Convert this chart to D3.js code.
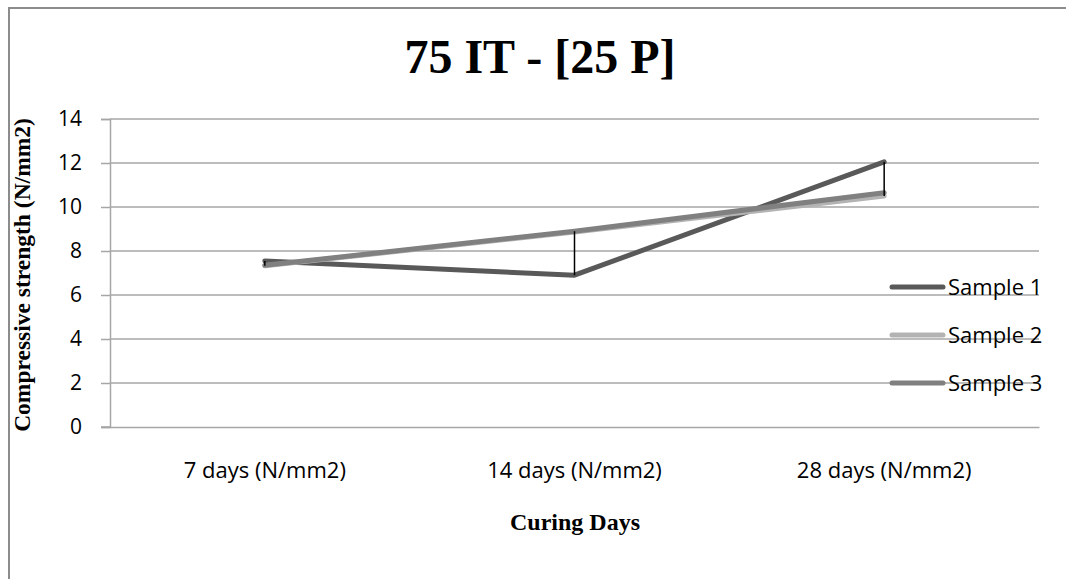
<!DOCTYPE html>
<html><head><meta charset="utf-8">
<script src="https://cdn.jsdelivr.net/npm/d3@7"></script>
<style>html,body{margin:0;padding:0;background:#fff;}svg{display:block;}</style>
</head><body>
<svg id="c" width="1066" height="579"></svg>
<script>
const categories = ["7 days (N/mm2)", "14 days (N/mm2)", "28 days (N/mm2)"];
const seriesNames = ["Sample 1", "Sample 2", "Sample 3"];
const sample1 = [7.55, 6.9, 12.05];
const sample2 = [7.33, 8.86, 10.5];
const sample3 = [7.35, 8.9, 10.65];
const yTicks = [0, 2, 4, 6, 8, 10, 12, 14];
const colors = ["#595959", "#b3b3b3", "#808080"];

const svg = d3.select("#c");
const L = 110, R = 1039, T = 119, B = 427;
const x = d3.scaleBand().domain(categories).range([L, R]);
const y = d3.scaleLinear().domain([0, 14]).range([B, T]);
const sans = "'Open Sans', Carlito, Calibri, sans-serif";
const serif = "'Liberation Serif', 'Times New Roman', serif";

// outer chart border
svg.append("path").attr("d", "M9,579 V8 H1066").attr("fill", "none")
  .attr("stroke", "#8c8c8c").attr("stroke-width", 2);

// title
svg.append("text").attr("x", 540).attr("y", 73).attr("text-anchor", "middle")
  .attr("font-family", serif).attr("font-weight", "bold")
  .attr("font-size", 48).attr("fill", "#000").text("75 IT - [25 P]");

// gridlines
svg.append("g").selectAll("line").data(yTicks.filter(d => d > 0)).join("line")
  .attr("x1", L).attr("x2", R).attr("y1", d => y(d)).attr("y2", d => y(d))
  .attr("stroke", "#a6a6a6").attr("stroke-width", 1.5);

// y axis
const yAxis = d3.axisLeft(y).tickValues(yTicks).tickSize(9).tickPadding(19).tickFormat(d3.format("d"));
const gy = svg.append("g").attr("transform", `translate(${L},0)`).call(yAxis);
gy.select(".domain").attr("stroke", "#a6a6a6").attr("stroke-width", 1.5);
gy.selectAll(".tick line").attr("stroke", "#a6a6a6").attr("stroke-width", 1.5);
gy.selectAll(".tick text").attr("font-family", sans).attr("font-size", 21).attr("fill", "#000");

// x axis
const xAxis = d3.axisBottom(x).tickSize(0).tickPadding(35);
const gx = svg.append("g").attr("transform", `translate(0,${B})`).call(xAxis);
gx.select(".domain").attr("stroke", "#a6a6a6").attr("stroke-width", 1.5);
gx.selectAll(".tick text").attr("font-family", sans).attr("font-size", 22).attr("fill", "#000");
svg.append("line").attr("x1", L - 9).attr("x2", L).attr("y1", B).attr("y2", B).attr("stroke", "#a6a6a6").attr("stroke-width", 1.5);

// axis titles
svg.append("text").attr("transform", `translate(30,${(T + B) / 2 + 2}) rotate(-90)`).attr("text-anchor", "middle")
  .attr("font-family", serif).attr("font-weight", "bold")
  .attr("font-size", 23.5).attr("fill", "#000").text("Compressive strength (N/mm2)");
svg.append("text").attr("x", 575).attr("y", 530).attr("text-anchor", "middle")
  .attr("font-family", serif).attr("font-weight", "bold")
  .attr("font-size", 24).attr("fill", "#000").text("Curing Days");

// lines
const series = [sample1, sample2, sample3];
const cx = c => x(c) + x.bandwidth() / 2;
const line = d3.line().x((d, i) => cx(categories[i])).y(d => y(d));
series.forEach((s, k) => {
  svg.append("path").datum(s).attr("d", line).attr("fill", "none")
    .attr("stroke", colors[k]).attr("stroke-width", 5).attr("stroke-linejoin", "round").attr("stroke-linecap", "round");
});

// high-low lines
svg.append("g").selectAll("line").data(categories).join("line")
  .attr("x1", d => cx(d)).attr("x2", d => cx(d))
  .attr("y1", (d, i) => y(d3.max(series, s => s[i])))
  .attr("y2", (d, i) => y(d3.min(series, s => s[i])))
  .attr("stroke", "#000").attr("stroke-width", 1.5);

// legend
const lg = svg.append("g");
seriesNames.forEach((n, k) => {
  const yy = 287 + k * 48;
  lg.append("line").attr("x1", 892).attr("x2", 943).attr("y1", yy).attr("y2", yy)
    .attr("stroke", colors[k]).attr("stroke-width", 5).attr("stroke-linecap", "round");
  lg.append("text").attr("x", 948).attr("y", yy + 8).attr("font-family", sans)
    .attr("font-size", 22).attr("fill", "#000").text(n);
});
</script>
</body></html>
